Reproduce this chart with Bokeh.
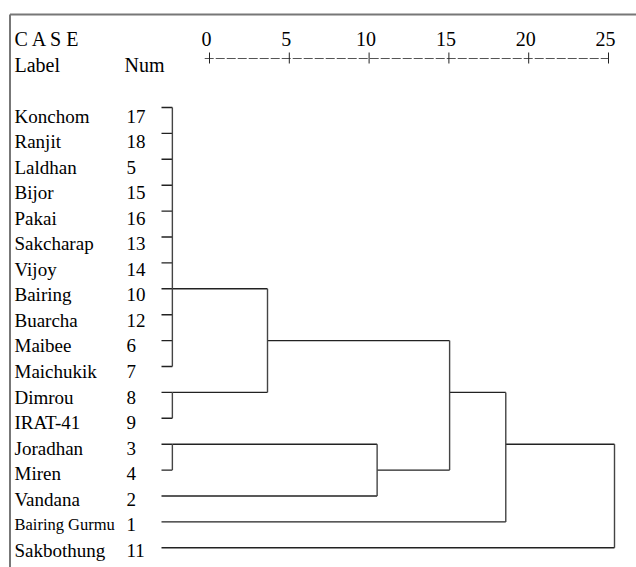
from bokeh.plotting import figure
from bokeh.models import Range1d, ColumnDataSource
from bokeh.core.properties import value
from bokeh.embed import file_html
from bokeh.resources import INLINE

# ---------------- data ----------------
labels = ["Konchom", "Ranjit", "Laldhan", "Bijor", "Pakai", "Sakcharap", "Vijoy",
          "Bairing", "Buarcha", "Maibee", "Maichukik", "Dimrou", "IRAT-41",
          "Joradhan", "Miren", "Vandana", "Bairing Gurmu", "Sakbothung"]
nums = ["17", "18", "5", "15", "16", "13", "14", "10", "12", "6", "7", "8", "9",
        "3", "4", "2", "1", "11"]

# merges (ids: leaves 0..17, clusters 18..25)
merge_children = [
    list(range(0, 11)),   # 18
    [11, 12],             # 19
    [13, 14],             # 20
    [18, 19],             # 21
    [20, 15],             # 22
    [21, 22],             # 23
    [23, 16],             # 24
    [24, 17],             # 25
]
merge_dist = [0.6, 0.6, 0.6, 5.85, 11.9, 15.9, 19.0, 25.0]   # rescaled distance
merge_row = [7, 11, 13, 9, 14, 11, 13, 15]                   # row of outgoing line

ruler_ticks = [0, 5, 10, 15, 20, 25]
ruler_labels = ["0", "5", "10", "15", "20", "25"]

# ---------------- figure ----------------
W, H = 636, 567
p = figure(width=W, height=H, output_backend="svg", toolbar_location=None,
           x_range=Range1d(0, W), y_range=Range1d(H, 0),
           x_axis_type=None, y_axis_type=None, min_border=0)
p.outline_line_color = None
p.grid.visible = False
p.background_fill_color = "white"

# dendrogram distance scale: 0 -> px 161, 25 -> px 614
d0, dpx = 161.0, (614.0 - 161.0) / 25.0
p.extra_x_ranges["dist"] = Range1d((0 - d0) / dpx, (W - d0) / dpx)
# ruler scale: 0 -> px 209, 25 -> px 608
r0, rpx = 209.0, (608.0 - 209.0) / 25.0
p.extra_x_ranges["ruler"] = Range1d((0 - r0) / rpx, (W - r0) / rpx)
# row scale for the tree: row 0 -> px 107, step 25.9
y0, ypx = 107.0, 25.9
p.extra_y_ranges["row"] = Range1d((H - y0) / ypx, (0 - y0) / ypx)
# row scale for label baselines: row 0 -> px 115.5, step 25.55
t0, tpx = 115.5, 25.55
p.extra_y_ranges["trow"] = Range1d((H - t0) / tpx, (0 - t0) / tpx)

FONT = value("Liberation Serif")

# frame (left and top border of the output box)
p.segment(x0=[9.5, 9.5], y0=[14, 14], x1=[9.5, W], y1=[H, 14],
          line_color="#777777", line_width=2)

# headers
p.text(x=[14], y=[38], text=["C A S E"], text_font=FONT, text_font_size="20px",
       text_baseline="alphabetic", text_color="black")
p.text(x=[14, 124], y=[64, 64], text=["Label", "Num"], text_font=FONT,
       text_font_size="20px", text_baseline="alphabetic", text_color="black")

# ruler
p.segment(x0=[-0.3], y0=[58], x1=[25], y1=[58], x_range_name="ruler",
          line_color="#555555", line_width=1.2, line_dash="9 2")
p.segment(x0=ruler_ticks, y0=[52] * 6, x1=ruler_ticks, y1=[63] * 6,
          x_range_name="ruler", line_color="#222222", line_width=1)
p.text(x=ruler_ticks, y=[38] * 6, text=ruler_labels, x_range_name="ruler",
       text_font=FONT, text_font_size="20px", text_align="center",
       text_baseline="alphabetic", x_offset=-3, text_color="black")

# leaf labels
rows = list(range(len(labels)))
sizes = ["16.5px" if len(t) > 11 else "19px" for t in labels]
lab_src = ColumnDataSource(dict(x=[14] * len(labels), y=rows, t=labels, s=sizes))
p.text(x="x", y="y", text="t", source=lab_src, y_range_name="trow",
       text_font=FONT, text_font_size="s", text_baseline="alphabetic",
       text_color="black")
num_src = ColumnDataSource(dict(x=[126] * len(nums), y=rows, t=nums))
p.text(x="x", y="y", text="t", source=num_src, y_range_name="trow",
       text_font=FONT, text_font_size="19px", text_baseline="alphabetic",
       text_color="black")

# dendrogram segments
n = len(labels)
node_x = {i: 0.0 for i in range(n)}
node_row = {i: float(i) for i in range(n)}
hx0, hx1, hy, vx, vy0, vy1 = [], [], [], [], [], []
for k, (ch, d, r) in enumerate(zip(merge_children, merge_dist, merge_row)):
    cid = n + k
    crow = []
    for c in ch:
        hx0.append(node_x[c]); hx1.append(d); hy.append(node_row[c])
        crow.append(node_row[c])
    vx.append(d); vy0.append(min(crow)); vy1.append(max(crow))
    node_x[cid] = d
    node_row[cid] = float(r)

p.segment(x0=hx0, y0=hy, x1=hx1, y1=hy, x_range_name="dist", y_range_name="row",
          line_color="#222222", line_width=1.4)
p.segment(x0=vx, y0=vy0, x1=vx, y1=vy1, x_range_name="dist", y_range_name="row",
          line_color="#444444", line_width=1.4)

open("out.html", "w").write(file_html(p, INLINE))
